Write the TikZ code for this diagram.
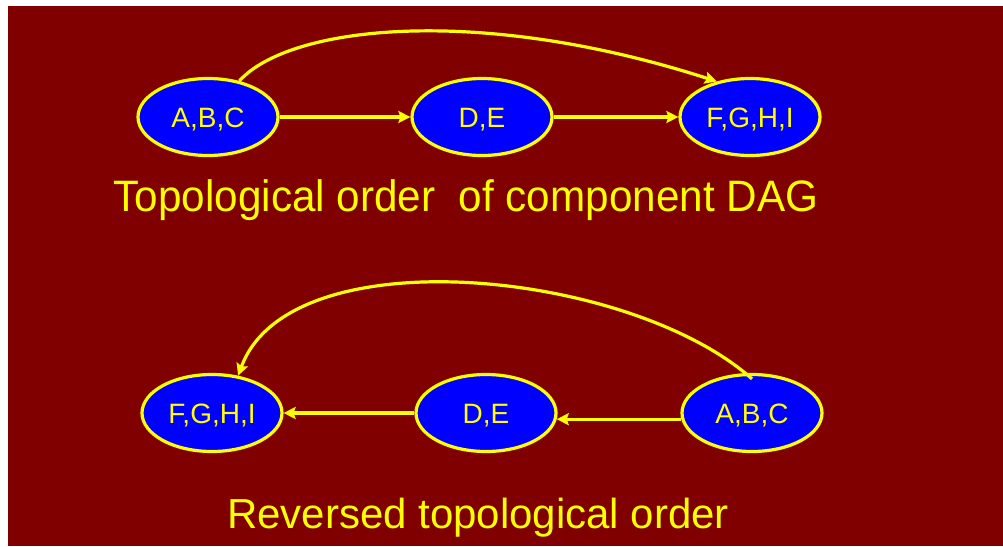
\documentclass[tikz,border=0pt]{standalone}
\usepackage{fontspec}
\setmainfont{Liberation Sans}
\usetikzlibrary{arrows.meta,shapes.geometric}
\definecolor{bgred}{RGB}{128,0,0}
\definecolor{nodeblue}{RGB}{0,0,255}
\definecolor{ylw}{RGB}{255,255,0}
\begin{document}
\begin{tikzpicture}[x=1pt,y=-1pt,
  comp/.style={ellipse, draw=ylw, line width=3.2pt, fill=nodeblue,
    minimum width=140pt, minimum height=77pt, inner sep=0pt, text=ylw,
    font=\fontsize{28}{30}\selectfont, text height=20pt, text depth=0pt},
  conn/.style={draw=ylw, line width=3.2pt, -{Stealth[length=12pt,width=12pt,inset=2pt]}},
  caption/.style={text=ylw, font=\fontsize{42}{46}\selectfont, anchor=base, inner sep=0pt}]
\useasboundingbox (0,0) rectangle (1003,546);
\fill[white] (0,0) rectangle (1003,546);
\fill[bgred] (8,6) rectangle (1003,546);

\node[comp] (abc1) at (208,117) {A,B,C};
\node[comp] (de1) at (482,117) {D,E};
\node[comp] (fghi1) at (750,117) {F,G,H,I};
\node[comp] (fghi2) at (212,413) {F,G,H,I};
\node[comp] (de2) at (486,413) {D,E};
\node[comp] (abc2) at (752,413) {A,B,C};

\draw[conn] (abc1.east) -- (de1.west);
\draw[conn] (de1.east) -- (fghi1.west);
\draw[conn] (abc1.49) .. controls (290,25) and (480,5) .. (fghi1.133);

\draw[conn] (abc2.185) -- (de2.-5);
\draw[conn] (de2.west) -- (fghi2.east);
\draw[conn] ([yshift=-6pt]abc2.north) .. controls (630,270) and (290,235) .. (fghi2.55);

\node[caption, font=\fontsize{44}{48}\selectfont, xscale=0.96] (cap1) at (466,211) {Topological order\ \ of component DAG};
\node[caption] (cap2) at (478,528) {Reversed topological order};
\end{tikzpicture}
\end{document}
